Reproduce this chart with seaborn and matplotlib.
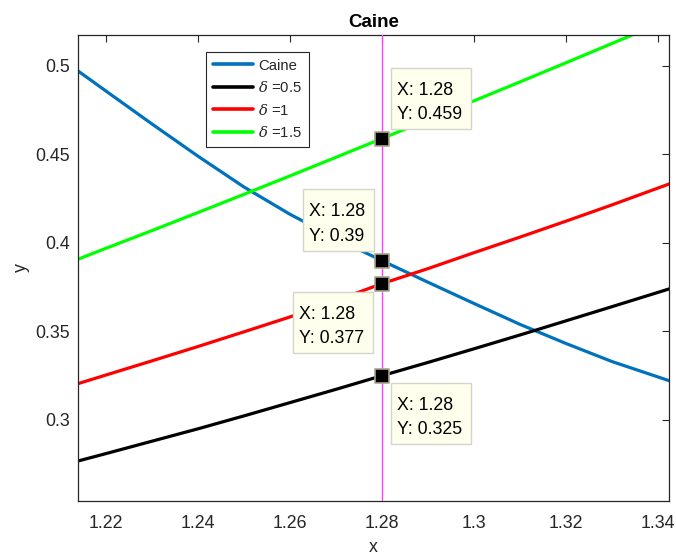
import matplotlib
matplotlib.use("Agg")
import matplotlib.pyplot as plt
import matplotlib.patches as mpatches
from matplotlib.transforms import IdentityTransform
import seaborn as sns
import pandas as pd

# ---- data ----
x_vals = [1.2139, 1.22, 1.23, 1.24, 1.25, 1.26, 1.27, 1.28, 1.29, 1.30, 1.31, 1.32, 1.33, 1.3424]
caine = [0.4972, 0.4858, 0.4672, 0.4490, 0.4316, 0.4162, 0.4025, 0.3900, 0.3778, 0.3658, 0.3540, 0.3432, 0.3330, 0.3222]
delta_05 = [0.2768, 0.2810, 0.2880, 0.2950, 0.3023, 0.3098, 0.3173, 0.3250, 0.3325, 0.3402, 0.3480, 0.3560, 0.3640, 0.3740]
delta_1 = [0.3205, 0.3254, 0.3334, 0.3415, 0.3498, 0.3582, 0.3675, 0.3770, 0.3855, 0.3945, 0.4033, 0.4123, 0.4215, 0.4333]
delta_15 = [0.3908, 0.3970, 0.4070, 0.4172, 0.4275, 0.4379, 0.4484, 0.4590, 0.4696, 0.4803, 0.4910, 0.5018, 0.5127, 0.5263]

series_names = ["Caine", r"$\delta$ =0.5", r"$\delta$ =1", r"$\delta$ =1.5"]
series_colors = ["#0072BD", "#000000", "#FF0000", "#00FF00"]

tip_x = 1.28
tip_y = [0.459, 0.39, 0.377, 0.325]

x_ticks = [1.22, 1.24, 1.26, 1.28, 1.30, 1.32, 1.34]
x_tick_labels = ["1.22", "1.24", "1.26", "1.28", "1.3", "1.32", "1.34"]
y_ticks = [0.30, 0.35, 0.40, 0.45, 0.50]
y_tick_labels = ["0.3", "0.35", "0.4", "0.45", "0.5"]

# ---- build long-form table ----
frames = []
for name, vals in zip(series_names, [caine, delta_05, delta_1, delta_15]):
    frames.append(pd.DataFrame({"x": x_vals, "y": vals, "series": name}))
df = pd.concat(frames, ignore_index=True)

sns.set_theme(style="white")
plt.rcParams["font.family"] = ["Liberation Sans", "DejaVu Sans"]
plt.rcParams["mathtext.fontset"] = "dejavuserif"

fig = plt.figure(figsize=(6.76, 5.56), dpi=100)
ax = fig.add_axes([78 / 676, 1 - 501 / 556, (669 - 78) / 676, (501 - 35) / 556])

sns.lineplot(data=df, x="x", y="y", hue="series", hue_order=series_names,
             palette=series_colors, linewidth=2.3, sort=False, estimator=None,
             ax=ax, legend=True)

ax.set_xlim(1.2139, 1.3424)
ax.set_ylim(0.2542, 0.5175)
ax.set_autoscale_on(False)

ax.axvline(tip_x, color="#FF40FF", linewidth=1.0, zorder=3)

# data-tip markers
ax.scatter([tip_x] * len(tip_y), tip_y, marker="s", s=100, c="black",
           edgecolors="#A9A48C", linewidths=1.2, zorder=5)

# text offsets (pixels) relative to the data-tip point
tip_offsets = [(15, 15.5, "left", "bottom"),
               (-17, 16, "right", "bottom"),
               (-18, -22, "right", "top"),
               (15, -21.5, "left", "top")]
tip_texts = []
for y, (dx, dy, ha, va) in zip(tip_y, tip_offsets):
    t = ax.annotate(f"X: {tip_x:g}\nY: {y:g}", xy=(tip_x, y), xytext=(dx, dy),
                    textcoords="offset pixels", ha=ha, va=va, multialignment="left",
                    fontsize=12.8, color="#000000", linespacing=1.56, zorder=7)
    tip_texts.append(t)

ax.set_xticks(x_ticks)
ax.set_xticklabels(x_tick_labels)
ax.set_yticks(y_ticks)
ax.set_yticklabels(y_tick_labels)
ax.tick_params(axis="both", direction="in", length=5, width=0.8,
               colors="#262626", labelsize=12.8, top=True, right=True,
               labelcolor="#262626")
ax.tick_params(axis="x", pad=10)
ax.tick_params(axis="y", pad=6)

for sp in ax.spines.values():
    sp.set_color("#262626")
    sp.set_linewidth(0.9)
    sp.set_visible(True)

ax.set_xlabel("x", fontsize=12.8, color="#262626", labelpad=5)
ax.set_ylabel("y", fontsize=12.8, color="#262626", labelpad=4)
ax.set_title("Caine", fontsize=13.5, fontweight="bold", color="#000000", pad=6)

handles, labels = ax.get_legend_handles_labels()
leg = ax.legend(handles, labels, loc="upper left",
                bbox_to_anchor=((206 - 78) / 591, (501 - 52) / 466),
                borderaxespad=0, fontsize=10.7, frameon=True, fancybox=False,
                handlelength=2.7, handletextpad=0.35, labelspacing=0.5,
                borderpad=0.45)
leg.get_frame().set_edgecolor("#262626")
leg.get_frame().set_linewidth(0.8)
leg.get_frame().set_alpha(1)
for line in leg.get_lines():
    line.set_linewidth(2.6)

# data-tip boxes drawn around the measured text extents (below the text)
fig.canvas.draw()
renderer = fig.canvas.get_renderer()
for t in tip_texts:
    bb = t.get_window_extent(renderer)
    rect = mpatches.Rectangle((bb.x0 - 6, bb.y0 - 6), bb.width + 15, bb.height + 20,
                              transform=IdentityTransform(), facecolor="#FFFFEE",
                              edgecolor="#D5D5CC", linewidth=1.0, zorder=6,
                              clip_on=False)
    ax.add_artist(rect)

fig.savefig("out.png", dpi=100)
